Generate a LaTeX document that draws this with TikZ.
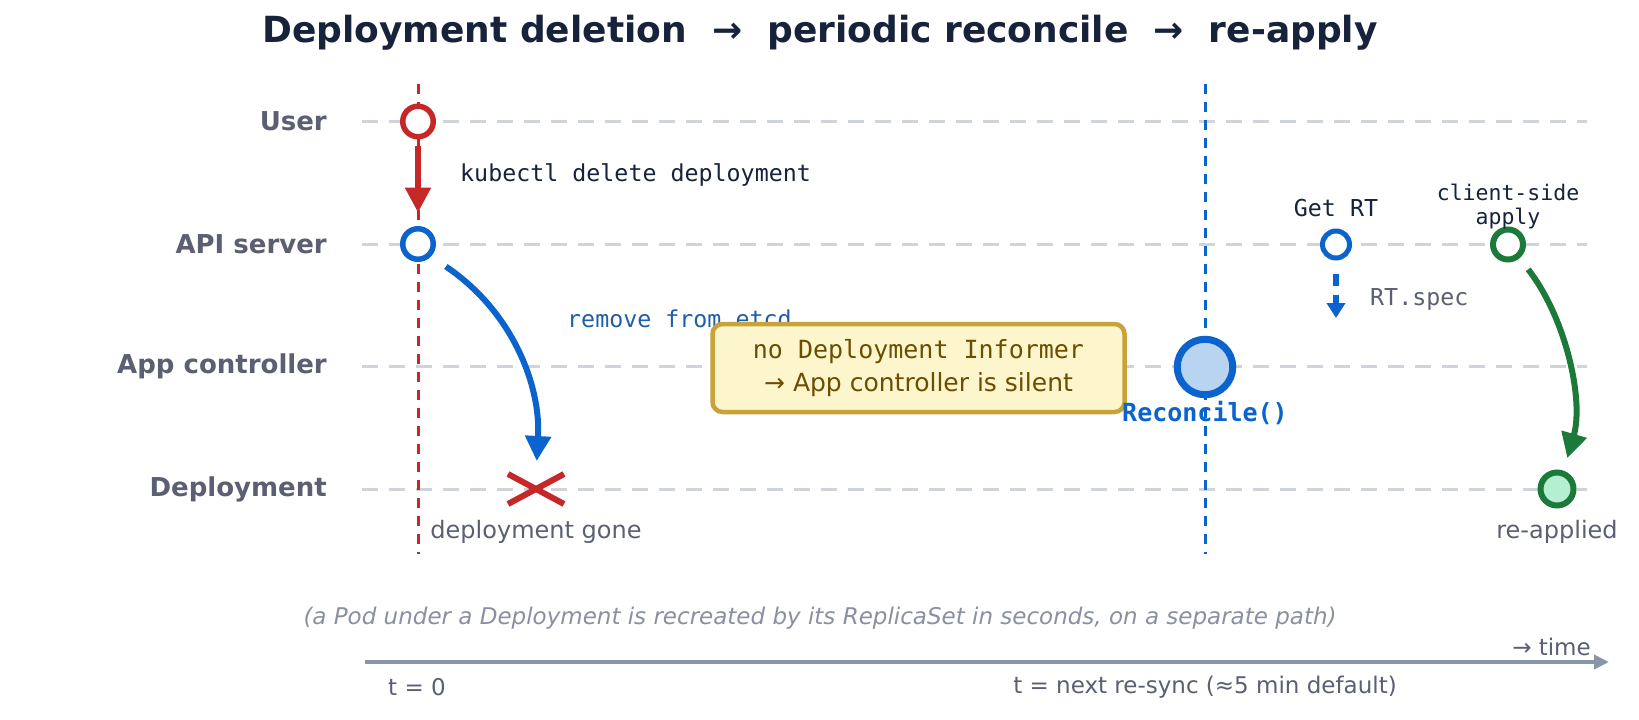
\documentclass[tikz,border=0pt]{standalone}
\usepackage{fontspec}
\setmainfont{DejaVu Sans}
\setmonofont{DejaVu Sans Mono}
\usetikzlibrary{arrows.meta}
\definecolor{cred}{HTML}{C62828}
\definecolor{cblue}{HTML}{0B63CE}
\definecolor{cgreen}{HTML}{1B7A3A}
\definecolor{lanec}{HTML}{CFD3DC}
\definecolor{labc}{HTML}{5A6072}
\definecolor{navy}{HTML}{17223B}
\definecolor{boxfill}{HTML}{FDF5CC}
\definecolor{boxdraw}{HTML}{C9A33A}
\definecolor{boxtext}{HTML}{6B4E00}
\definecolor{etcdc}{HTML}{1F5FA8}
\definecolor{footc}{HTML}{8A90A0}
\definecolor{axisc}{HTML}{8796A8}
\definecolor{recfill}{HTML}{B8D4F0}
\definecolor{mint}{HTML}{B5EFD2}
\begin{document}
\begin{tikzpicture}[x=1pt,y=-1pt,
  lane/.style={draw=lanec, line width=3pt, dash pattern=on 15.5pt off 11.5pt},
  vline/.style={line width=3pt, dash pattern=on 10pt off 8pt},
  lanelabel/.style={anchor=east, inner sep=0pt, text=labc, font=\fontsize{26}{30}\selectfont\bfseries},
  evt/.style={circle, fill=white, line width=5.5pt, minimum size=30.5pt, inner sep=0pt},
  monotxt/.style={font=\fontsize{23.3}{28}\selectfont\ttfamily},
  sanstxt/.style={font=\fontsize{24}{28}\selectfont, text=labc},
  smalltxt/.style={font=\fontsize{23}{27}\selectfont, text=labc},
  box/.style={draw=boxdraw, fill=boxfill, line width=4.5pt, rounded corners=10pt, minimum width=412pt, minimum height=88pt, align=center, text=boxtext, font=\fontsize{25}{33}\selectfont},
  bigtip/.style={-{Triangle[length=25pt,width=25pt]}}
]
\fill[white] (0,0) rectangle (1639,720);
\useasboundingbox (0,0) rectangle (1639,720);

% title
\node[font=\fontsize{36}{42}\selectfont\bfseries, text=navy] (title) at (820,33) {Deployment deletion\ \ →\ \ periodic reconcile\ \ →\ \ re-apply};

% lanes
\foreach \y/\n in {121.5/User, 244/API server, 366.5/App controller, 489/Deployment}{
  \draw[lane] (362,\y) -- (1587,\y);
  \node[lanelabel] at (327,\y) {\n};
}

% vertical markers
\draw[vline, cred] (418,84) -- (418,554);
\draw[vline, cblue] (1205,84) -- (1205,554);

% events
\node[evt, draw=cred] (user) at (418,121.5) {};
\node[evt, draw=cblue] (api) at (418,244) {};
\node[inner sep=0pt, outer sep=0pt, minimum width=56pt, minimum height=30pt] (gone) at (536,489) {};
\draw[cred, line width=6pt] (gone.north west) -- (gone.south east) (gone.south west) -- (gone.north east);
\node[evt, draw=cblue, fill=recfill, line width=7pt, minimum size=55.5pt] (rec) at (1205,367) {};
\node[evt, draw=cblue, line width=5pt, minimum size=27pt] (getrt) at (1336,244.5) {};
\node[evt, draw=cgreen, line width=6pt, minimum size=30pt] (csa) at (1508,244.5) {};
\node[evt, draw=cgreen, fill=mint, line width=6pt, minimum size=33pt] (reap) at (1557,489) {};
\coordinate (rtspec) at (1336,318);

% connectors
\draw[cred, line width=5.5pt, bigtip, shorten <=6pt, shorten >=13.5pt] (user) -- (api);
\draw[cblue, line width=6pt, bigtip, shorten <=18pt, shorten >=13pt] (api.-44) .. controls (512,311) and (541,385) .. (gone.north);
\draw[cblue, line width=5.5pt, dash pattern=on 12pt off 9pt, -{Triangle[length=15pt,width=18pt]}, shorten <=13pt] (getrt) -- (rtspec);
\draw[cgreen, line width=6pt, bigtip, shorten <=14pt, shorten >=13pt] (csa.-50) .. controls (1566,318) and (1584,400) .. (reap.70);

% labels
\node[monotxt, text=navy, anchor=west, inner sep=0pt] (kub) at (460,175.5) {kubectl delete deployment};
\node[monotxt, text=etcdc, anchor=west, inner sep=0pt] (etcd) at (567,319) {remove from etcd};
\node[box] (silent) at (918.5,368) {\ttfamily no Deployment Informer\\→ App controller is silent};
\node[font=\fontsize{25}{28}\selectfont\ttfamily\bfseries, text=cblue] (reclab) at (1205,413) {Reconcile()};
\node[monotxt, text=navy] (getrtlab) at (1336,208) {Get RT};
\node[monotxt, text=labc, anchor=west, inner sep=0pt] (rtspeclab) at (1370,299) {RT.spec};
\node[font=\fontsize{21.5}{24}\selectfont\ttfamily, text=navy, align=center] (csalab) at (1508,207) {client-side\\apply};
\node[sanstxt] (reaplab) at (1557,532) {re-applied};
\node[sanstxt] (gonelab) at (536,532) {deployment gone};

% footer
\node[font=\fontsize{23}{27}\selectfont\itshape, text=footc] (foot) at (820,618) {(a Pod under a Deployment is recreated by its ReplicaSet in seconds, on a separate path)};
\coordinate (t0) at (365,662);
\coordinate (tend) at (1609,662);
\draw[axisc, line width=4pt, -{Triangle[length=15pt,width=14pt]}] (t0) -- (tend);
\node[smalltxt, anchor=east, inner sep=0pt] (timelab) at (1591,647) {→ time};
\node[smalltxt] (tzero) at (417,687) {t = 0};
\node[smalltxt] (tnext) at (1205,687) {t = next re-sync (≈5 min default)};
\end{tikzpicture}
\end{document}
